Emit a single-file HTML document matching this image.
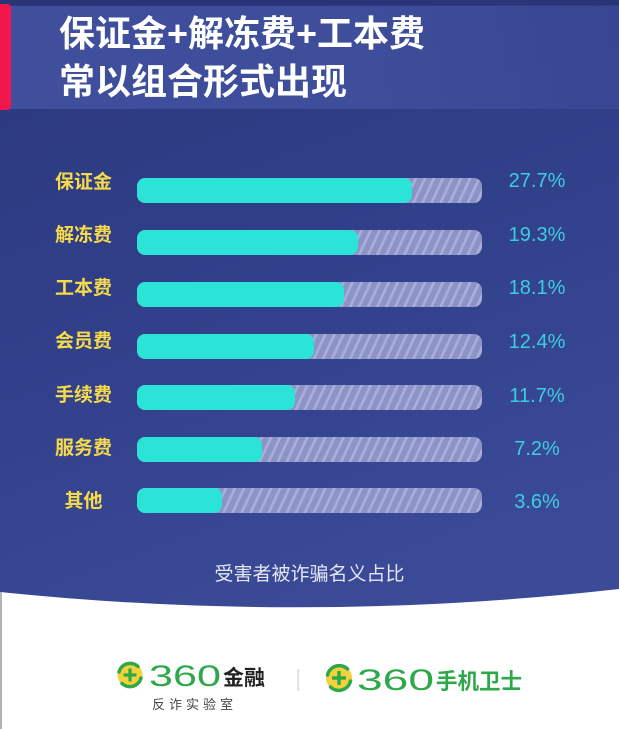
<!DOCTYPE html>
<html><head><meta charset="utf-8">
<style>
html,body{margin:0;padding:0;}
body{width:619px;height:729px;position:relative;overflow:hidden;background:#fff;font-family:"Liberation Sans","Noto Sans CJK SC",sans-serif;}
#bg{position:absolute;left:0;top:0;width:619px;height:729px;background:linear-gradient(160deg,#2b387e 0%,#31408a 40%,#3b4a97 75%,#3d4c99 100%);}
#topstrip{position:absolute;left:0;top:0;width:619px;height:5px;background:#2a3577;}
#band{position:absolute;left:0;top:6px;width:619px;height:103px;background:linear-gradient(to right,#3f4f9c 0%,#3e4e9b 55%,rgba(62,78,155,0.55) 100%);}
#red{position:absolute;left:-4px;top:4px;width:15px;height:106px;background:#f4164a;border-radius:4px;}
.title{position:absolute;left:59px;color:#fff;font-weight:bold;font-size:36px;line-height:36px;white-space:nowrap;font-family:"Liberation Sans","Noto Sans CJK SC",sans-serif;}
.lab{position:absolute;left:45px;width:77px;text-align:center;color:#f6da4b;font-weight:bold;font-size:19px;line-height:20px;font-family:"Liberation Sans","Noto Sans CJK SC",sans-serif;}
.track{position:absolute;left:137px;width:345px;height:25px;border-radius:8px;overflow:hidden;
background:repeating-linear-gradient(115deg,#8b93c7 0px,#8b93c7 5.5px,#a8aed7 5.5px,#a8aed7 8.2px);}
.fill{position:absolute;left:0;top:0;height:25px;border-radius:8px;background:#2ce3d8;}
.pct{position:absolute;left:497px;width:80px;text-align:center;color:#3ccde0;font-size:20px;line-height:20px;font-family:"Liberation Sans",sans-serif;}
#sub{position:absolute;left:0;width:619px;top:565px;text-align:center;color:#e3e6f3;font-size:19px;line-height:20px;font-family:"Liberation Sans","Noto Sans CJK SC",sans-serif;}
#leftline{position:absolute;left:0;top:592px;width:2px;height:137px;background:#b5b5b5;}
</style></head><body>
<div id="bg"></div>
<div id="topstrip"></div>
<div id="band"></div>
<div id="red"></div>
<div class="title" style="top:16px;">保证金+解冻费+工本费</div>
<div class="title" style="top:64px;">常以组合形式出现</div>

<div class="lab" style="top:173px;">保证金</div>
<div class="lab" style="top:226px;">解冻费</div>
<div class="lab" style="top:279px;">工本费</div>
<div class="lab" style="top:332px;">会员费</div>
<div class="lab" style="top:386px;">手续费</div>
<div class="lab" style="top:439px;">服务费</div>
<div class="lab" style="top:492px;">其他</div>

<div class="track" style="top:178px;"><div class="fill" style="width:275px;"></div></div>
<div class="track" style="top:230px;"><div class="fill" style="width:221px;"></div></div>
<div class="track" style="top:282px;"><div class="fill" style="width:207px;"></div></div>
<div class="track" style="top:334px;"><div class="fill" style="width:177px;"></div></div>
<div class="track" style="top:385px;"><div class="fill" style="width:158px;"></div></div>
<div class="track" style="top:437px;"><div class="fill" style="width:125px;"></div></div>
<div class="track" style="top:488px;"><div class="fill" style="width:85px;"></div></div>

<div class="pct" style="top:171px;">27.7%</div>
<div class="pct" style="top:225px;">19.3%</div>
<div class="pct" style="top:278px;">18.1%</div>
<div class="pct" style="top:332px;">12.4%</div>
<div class="pct" style="top:386px;">11.7%</div>
<div class="pct" style="top:439px;">7.2%</div>
<div class="pct" style="top:492px;">3.6%</div>

<div id="sub">受害者被诈骗名义占比</div>

<svg style="position:absolute;left:0;top:0;" width="619" height="729" viewBox="0 0 619 729">
  <path d="M0,592 Q310,624 619,589 L619,729 L0,729 Z" fill="#ffffff"/>
  <!-- left logo -->
  <g transform="translate(130,675)">
    <circle r="12.5" fill="#f3d23b"/>
    <path d="M-11,-3 A11.5,11.5 0 0 1 8,-8.5" fill="none" stroke="#2ea84a" stroke-width="3.5" stroke-linecap="round"/>
    <path d="M11,3 A11.5,11.5 0 0 1 -8,8.5" fill="none" stroke="#2ea84a" stroke-width="3.5" stroke-linecap="round"/>
    <rect x="-1.6" y="-6.5" width="3.2" height="13" fill="#2ea84a"/>
    <rect x="-6.5" y="-1.6" width="13" height="3.2" fill="#2ea84a"/>
  </g>
  <text x="149" y="686" textLength="72" lengthAdjust="spacingAndGlyphs" font-family="Liberation Sans, sans-serif" font-size="30" fill="#2ea84a">360</text>
  <text x="223" y="685" textLength="42" lengthAdjust="spacingAndGlyphs" font-family="Liberation Sans, Noto Sans CJK SC, sans-serif" font-size="21" font-weight="bold" fill="#222">金融</text>
  <text x="152" y="709" textLength="81" lengthAdjust="spacing" font-family="Liberation Sans, Noto Sans CJK SC, sans-serif" font-size="13" fill="#444">反诈实验室</text>
  <!-- divider -->
  <rect x="297.5" y="669" width="1.2" height="22" fill="#cfcfcf"/>
  <!-- right logo -->
  <g transform="translate(339,678)">
    <circle r="13" fill="#f3d23b"/>
    <path d="M-11.5,-3 A12,12 0 0 1 8.5,-9" fill="none" stroke="#2ea84a" stroke-width="3.5" stroke-linecap="round"/>
    <path d="M11.5,3 A12,12 0 0 1 -8.5,9" fill="none" stroke="#2ea84a" stroke-width="3.5" stroke-linecap="round"/>
    <rect x="-1.7" y="-7" width="3.4" height="14" fill="#2ea84a"/>
    <rect x="-7" y="-1.7" width="14" height="3.4" fill="#2ea84a"/>
  </g>
  <text x="357" y="690" textLength="77" lengthAdjust="spacingAndGlyphs" font-family="Liberation Sans, sans-serif" font-size="30" fill="#2ea84a">360</text>
  <text x="436" y="689" textLength="86" lengthAdjust="spacingAndGlyphs" font-family="Liberation Sans, Noto Sans CJK SC, sans-serif" font-size="22" font-weight="bold" fill="#2ea84a">手机卫士</text>
</svg>
<div id="leftline"></div>
</body></html>
